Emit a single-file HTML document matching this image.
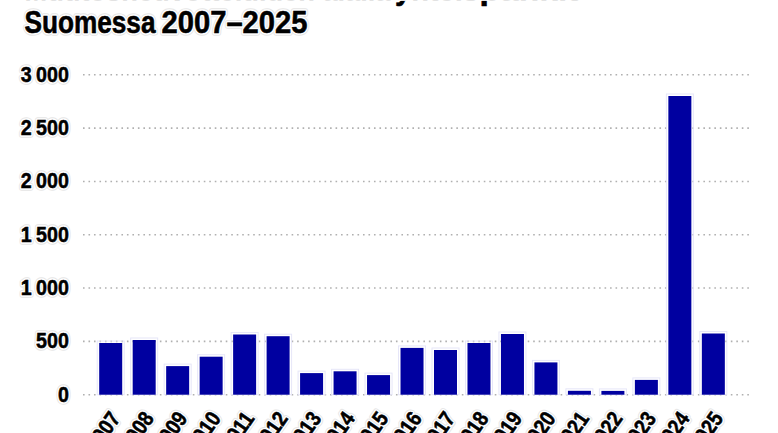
<!DOCTYPE html>
<html><head><meta charset="utf-8"><style>
html,body{margin:0;padding:0;background:#fff;}
body{width:778px;height:433px;overflow:hidden;position:relative;}
svg{position:absolute;left:0;top:0;}
text{font-family:"Liberation Sans",sans-serif;font-weight:bold;fill:#000;}
.yl{font-size:22.6px;text-anchor:end;stroke:#000;stroke-width:0.55px;}
.xl{font-size:21.8px;text-anchor:end;stroke:#000;stroke-width:0.55px;}
.g{stroke:#b0b0b0;stroke-width:1.6;stroke-dasharray:1.6 3.89;}
.r{fill:#0000a0;}
text.ha{fill:#e6e6e6;stroke:#e6e6e6;stroke-width:5.5px;stroke-linejoin:round;}
text.hb{fill:#fff;stroke:#fff;stroke-width:3.5px;stroke-linejoin:round;}
.h{fill:none;stroke:#e6e6f8;stroke-width:1;}
</style></head><body>
<svg width="778" height="433" viewBox="0 0 778 433">
<line x1="83" y1="394.70" x2="750" y2="394.70" class="g"/>
<line x1="83" y1="341.38" x2="750" y2="341.38" class="g"/>
<line x1="83" y1="288.07" x2="750" y2="288.07" class="g"/>
<line x1="83" y1="234.75" x2="750" y2="234.75" class="g"/>
<line x1="83" y1="181.43" x2="750" y2="181.43" class="g"/>
<line x1="83" y1="128.12" x2="750" y2="128.12" class="g"/>
<line x1="83" y1="74.80" x2="750" y2="74.80" class="g"/>
<rect x="97.20" y="341.00" width="27.00" height="53.70" class="h"/>
<rect x="130.68" y="338.00" width="27.00" height="56.70" class="h"/>
<rect x="164.16" y="364.10" width="27.00" height="30.60" class="h"/>
<rect x="197.64" y="354.70" width="27.00" height="40.00" class="h"/>
<rect x="231.12" y="332.50" width="27.00" height="62.20" class="h"/>
<rect x="264.60" y="334.20" width="27.00" height="60.50" class="h"/>
<rect x="298.08" y="371.10" width="27.00" height="23.60" class="h"/>
<rect x="331.56" y="369.30" width="27.00" height="25.40" class="h"/>
<rect x="365.04" y="373.10" width="27.00" height="21.60" class="h"/>
<rect x="398.52" y="345.90" width="27.00" height="48.80" class="h"/>
<rect x="432.00" y="348.00" width="27.00" height="46.70" class="h"/>
<rect x="465.48" y="341.00" width="27.00" height="53.70" class="h"/>
<rect x="498.96" y="332.00" width="27.00" height="62.70" class="h"/>
<rect x="532.44" y="360.40" width="27.00" height="34.30" class="h"/>
<rect x="565.92" y="388.80" width="27.00" height="5.90" class="h"/>
<rect x="599.40" y="388.90" width="27.00" height="5.80" class="h"/>
<rect x="632.88" y="377.90" width="27.00" height="16.80" class="h"/>
<rect x="666.36" y="94.00" width="27.00" height="300.70" class="h"/>
<rect x="699.84" y="331.50" width="27.00" height="63.20" class="h"/>
<rect x="99.20" y="343.00" width="23" height="51.70" class="r"/>
<rect x="132.68" y="340.00" width="23" height="54.70" class="r"/>
<rect x="166.16" y="366.10" width="23" height="28.60" class="r"/>
<rect x="199.64" y="356.70" width="23" height="38.00" class="r"/>
<rect x="233.12" y="334.50" width="23" height="60.20" class="r"/>
<rect x="266.60" y="336.20" width="23" height="58.50" class="r"/>
<rect x="300.08" y="373.10" width="23" height="21.60" class="r"/>
<rect x="333.56" y="371.30" width="23" height="23.40" class="r"/>
<rect x="367.04" y="375.10" width="23" height="19.60" class="r"/>
<rect x="400.52" y="347.90" width="23" height="46.80" class="r"/>
<rect x="434.00" y="350.00" width="23" height="44.70" class="r"/>
<rect x="467.48" y="343.00" width="23" height="51.70" class="r"/>
<rect x="500.96" y="334.00" width="23" height="60.70" class="r"/>
<rect x="534.44" y="362.40" width="23" height="32.30" class="r"/>
<rect x="567.92" y="390.80" width="23" height="3.90" class="r"/>
<rect x="601.40" y="390.90" width="23" height="3.80" class="r"/>
<rect x="634.88" y="379.90" width="23" height="14.80" class="r"/>
<rect x="668.36" y="96.00" width="23" height="298.70" class="r"/>
<rect x="701.84" y="333.50" width="23" height="61.20" class="r"/>
<text transform="translate(68.9,401.50) scale(0.87,1)" class="yl ha">0</text>
<text transform="translate(68.9,401.50) scale(0.87,1)" class="yl hb">0</text>
<text transform="translate(68.9,401.50) scale(0.87,1)" class="yl">0</text>
<text transform="translate(68.9,348.18) scale(0.87,1)" class="yl ha">500</text>
<text transform="translate(68.9,348.18) scale(0.87,1)" class="yl hb">500</text>
<text transform="translate(68.9,348.18) scale(0.87,1)" class="yl">500</text>
<text transform="translate(68.9,294.87) scale(0.87,1)" class="yl ha">1<tspan dx="5">000</tspan></text>
<text transform="translate(68.9,294.87) scale(0.87,1)" class="yl hb">1<tspan dx="5">000</tspan></text>
<text transform="translate(68.9,294.87) scale(0.87,1)" class="yl">1<tspan dx="5">000</tspan></text>
<text transform="translate(68.9,241.55) scale(0.87,1)" class="yl ha">1<tspan dx="5">500</tspan></text>
<text transform="translate(68.9,241.55) scale(0.87,1)" class="yl hb">1<tspan dx="5">500</tspan></text>
<text transform="translate(68.9,241.55) scale(0.87,1)" class="yl">1<tspan dx="5">500</tspan></text>
<text transform="translate(68.9,188.23) scale(0.87,1)" class="yl ha">2<tspan dx="5">000</tspan></text>
<text transform="translate(68.9,188.23) scale(0.87,1)" class="yl hb">2<tspan dx="5">000</tspan></text>
<text transform="translate(68.9,188.23) scale(0.87,1)" class="yl">2<tspan dx="5">000</tspan></text>
<text transform="translate(68.9,134.92) scale(0.87,1)" class="yl ha">2<tspan dx="5">500</tspan></text>
<text transform="translate(68.9,134.92) scale(0.87,1)" class="yl hb">2<tspan dx="5">500</tspan></text>
<text transform="translate(68.9,134.92) scale(0.87,1)" class="yl">2<tspan dx="5">500</tspan></text>
<text transform="translate(68.9,81.60) scale(0.87,1)" class="yl ha">3<tspan dx="5">000</tspan></text>
<text transform="translate(68.9,81.60) scale(0.87,1)" class="yl hb">3<tspan dx="5">000</tspan></text>
<text transform="translate(68.9,81.60) scale(0.87,1)" class="yl">3<tspan dx="5">000</tspan></text>
<text transform="translate(121.30,418.50) rotate(-55) scale(0.86,1)" class="xl ha">2007</text>
<text transform="translate(121.30,418.50) rotate(-55) scale(0.86,1)" class="xl hb">2007</text>
<text transform="translate(121.30,418.50) rotate(-55) scale(0.86,1)" class="xl">2007</text>
<text transform="translate(154.78,418.50) rotate(-55) scale(0.86,1)" class="xl ha">2008</text>
<text transform="translate(154.78,418.50) rotate(-55) scale(0.86,1)" class="xl hb">2008</text>
<text transform="translate(154.78,418.50) rotate(-55) scale(0.86,1)" class="xl">2008</text>
<text transform="translate(188.26,418.50) rotate(-55) scale(0.86,1)" class="xl ha">2009</text>
<text transform="translate(188.26,418.50) rotate(-55) scale(0.86,1)" class="xl hb">2009</text>
<text transform="translate(188.26,418.50) rotate(-55) scale(0.86,1)" class="xl">2009</text>
<text transform="translate(221.74,418.50) rotate(-55) scale(0.86,1)" class="xl ha">2010</text>
<text transform="translate(221.74,418.50) rotate(-55) scale(0.86,1)" class="xl hb">2010</text>
<text transform="translate(221.74,418.50) rotate(-55) scale(0.86,1)" class="xl">2010</text>
<text transform="translate(255.22,418.50) rotate(-55) scale(0.86,1)" class="xl ha">2011</text>
<text transform="translate(255.22,418.50) rotate(-55) scale(0.86,1)" class="xl hb">2011</text>
<text transform="translate(255.22,418.50) rotate(-55) scale(0.86,1)" class="xl">2011</text>
<text transform="translate(288.70,418.50) rotate(-55) scale(0.86,1)" class="xl ha">2012</text>
<text transform="translate(288.70,418.50) rotate(-55) scale(0.86,1)" class="xl hb">2012</text>
<text transform="translate(288.70,418.50) rotate(-55) scale(0.86,1)" class="xl">2012</text>
<text transform="translate(322.18,418.50) rotate(-55) scale(0.86,1)" class="xl ha">2013</text>
<text transform="translate(322.18,418.50) rotate(-55) scale(0.86,1)" class="xl hb">2013</text>
<text transform="translate(322.18,418.50) rotate(-55) scale(0.86,1)" class="xl">2013</text>
<text transform="translate(355.66,418.50) rotate(-55) scale(0.86,1)" class="xl ha">2014</text>
<text transform="translate(355.66,418.50) rotate(-55) scale(0.86,1)" class="xl hb">2014</text>
<text transform="translate(355.66,418.50) rotate(-55) scale(0.86,1)" class="xl">2014</text>
<text transform="translate(389.14,418.50) rotate(-55) scale(0.86,1)" class="xl ha">2015</text>
<text transform="translate(389.14,418.50) rotate(-55) scale(0.86,1)" class="xl hb">2015</text>
<text transform="translate(389.14,418.50) rotate(-55) scale(0.86,1)" class="xl">2015</text>
<text transform="translate(422.62,418.50) rotate(-55) scale(0.86,1)" class="xl ha">2016</text>
<text transform="translate(422.62,418.50) rotate(-55) scale(0.86,1)" class="xl hb">2016</text>
<text transform="translate(422.62,418.50) rotate(-55) scale(0.86,1)" class="xl">2016</text>
<text transform="translate(456.10,418.50) rotate(-55) scale(0.86,1)" class="xl ha">2017</text>
<text transform="translate(456.10,418.50) rotate(-55) scale(0.86,1)" class="xl hb">2017</text>
<text transform="translate(456.10,418.50) rotate(-55) scale(0.86,1)" class="xl">2017</text>
<text transform="translate(489.58,418.50) rotate(-55) scale(0.86,1)" class="xl ha">2018</text>
<text transform="translate(489.58,418.50) rotate(-55) scale(0.86,1)" class="xl hb">2018</text>
<text transform="translate(489.58,418.50) rotate(-55) scale(0.86,1)" class="xl">2018</text>
<text transform="translate(523.06,418.50) rotate(-55) scale(0.86,1)" class="xl ha">2019</text>
<text transform="translate(523.06,418.50) rotate(-55) scale(0.86,1)" class="xl hb">2019</text>
<text transform="translate(523.06,418.50) rotate(-55) scale(0.86,1)" class="xl">2019</text>
<text transform="translate(556.54,418.50) rotate(-55) scale(0.86,1)" class="xl ha">2020</text>
<text transform="translate(556.54,418.50) rotate(-55) scale(0.86,1)" class="xl hb">2020</text>
<text transform="translate(556.54,418.50) rotate(-55) scale(0.86,1)" class="xl">2020</text>
<text transform="translate(590.02,418.50) rotate(-55) scale(0.86,1)" class="xl ha">2021</text>
<text transform="translate(590.02,418.50) rotate(-55) scale(0.86,1)" class="xl hb">2021</text>
<text transform="translate(590.02,418.50) rotate(-55) scale(0.86,1)" class="xl">2021</text>
<text transform="translate(623.50,418.50) rotate(-55) scale(0.86,1)" class="xl ha">2022</text>
<text transform="translate(623.50,418.50) rotate(-55) scale(0.86,1)" class="xl hb">2022</text>
<text transform="translate(623.50,418.50) rotate(-55) scale(0.86,1)" class="xl">2022</text>
<text transform="translate(656.98,418.50) rotate(-55) scale(0.86,1)" class="xl ha">2023</text>
<text transform="translate(656.98,418.50) rotate(-55) scale(0.86,1)" class="xl hb">2023</text>
<text transform="translate(656.98,418.50) rotate(-55) scale(0.86,1)" class="xl">2023</text>
<text transform="translate(690.46,418.50) rotate(-55) scale(0.86,1)" class="xl ha">2024</text>
<text transform="translate(690.46,418.50) rotate(-55) scale(0.86,1)" class="xl hb">2024</text>
<text transform="translate(690.46,418.50) rotate(-55) scale(0.86,1)" class="xl">2024</text>
<text transform="translate(723.94,418.50) rotate(-55) scale(0.86,1)" class="xl ha">2025</text>
<text transform="translate(723.94,418.50) rotate(-55) scale(0.86,1)" class="xl hb">2025</text>
<text transform="translate(723.94,418.50) rotate(-55) scale(0.86,1)" class="xl">2025</text>
<clipPath id="c1"><rect x="0" y="0" width="778" height="2.2"/></clipPath>
<g clip-path="url(#c1)" style="fill:#e2e2e2">
<text x="24.5" y="1.0" style="font-size:32px;fill:#e2e2e2" textLength="366" lengthAdjust="spacingAndGlyphs">Muutosneuvotteluiden alalla</text>
<text x="395" y="1.0" style="font-size:32px;fill:#e2e2e2" textLength="84" lengthAdjust="spacingAndGlyphs">yhteis</text>
<text x="479.5" y="1.0" style="font-size:32px;fill:#e2e2e2" textLength="99" lengthAdjust="spacingAndGlyphs">pankit</text>
</g>
<clipPath id="c2"><rect x="0" y="1.0" width="778" height="20"/></clipPath>
<text x="24.5" y="-0.6" clip-path="url(#c2)" style="font-size:32px;stroke:#000;stroke-width:0.6px" textLength="366" lengthAdjust="spacingAndGlyphs">Muutosneuvotteluiden alalla</text>
<text x="395" y="-0.6" clip-path="url(#c2)" style="font-size:32px;stroke:#000;stroke-width:0.6px" textLength="84" lengthAdjust="spacingAndGlyphs">yhteis</text>
<text x="479.5" y="-0.6" clip-path="url(#c2)" style="font-size:32px;stroke:#000;stroke-width:0.6px" textLength="99" lengthAdjust="spacingAndGlyphs">pankit</text>
<text x="24.5" y="32.8" class="ha" style="font-size:32px" textLength="131" lengthAdjust="spacingAndGlyphs">Suomessa</text>
<text x="24.5" y="32.8" class="hb" style="font-size:32px" textLength="131" lengthAdjust="spacingAndGlyphs">Suomessa</text>
<text x="24.5" y="32.8" style="font-size:32px;stroke:#000;stroke-width:0.6px" textLength="131" lengthAdjust="spacingAndGlyphs">Suomessa</text>
<text x="161.5" y="32.8" class="ha" style="font-size:32px" textLength="146" lengthAdjust="spacingAndGlyphs">2007–2025</text>
<text x="161.5" y="32.8" class="hb" style="font-size:32px" textLength="146" lengthAdjust="spacingAndGlyphs">2007–2025</text>
<text x="161.5" y="32.8" style="font-size:32px;stroke:#000;stroke-width:0.6px" textLength="146" lengthAdjust="spacingAndGlyphs">2007–2025</text>
</svg>
</body></html>
